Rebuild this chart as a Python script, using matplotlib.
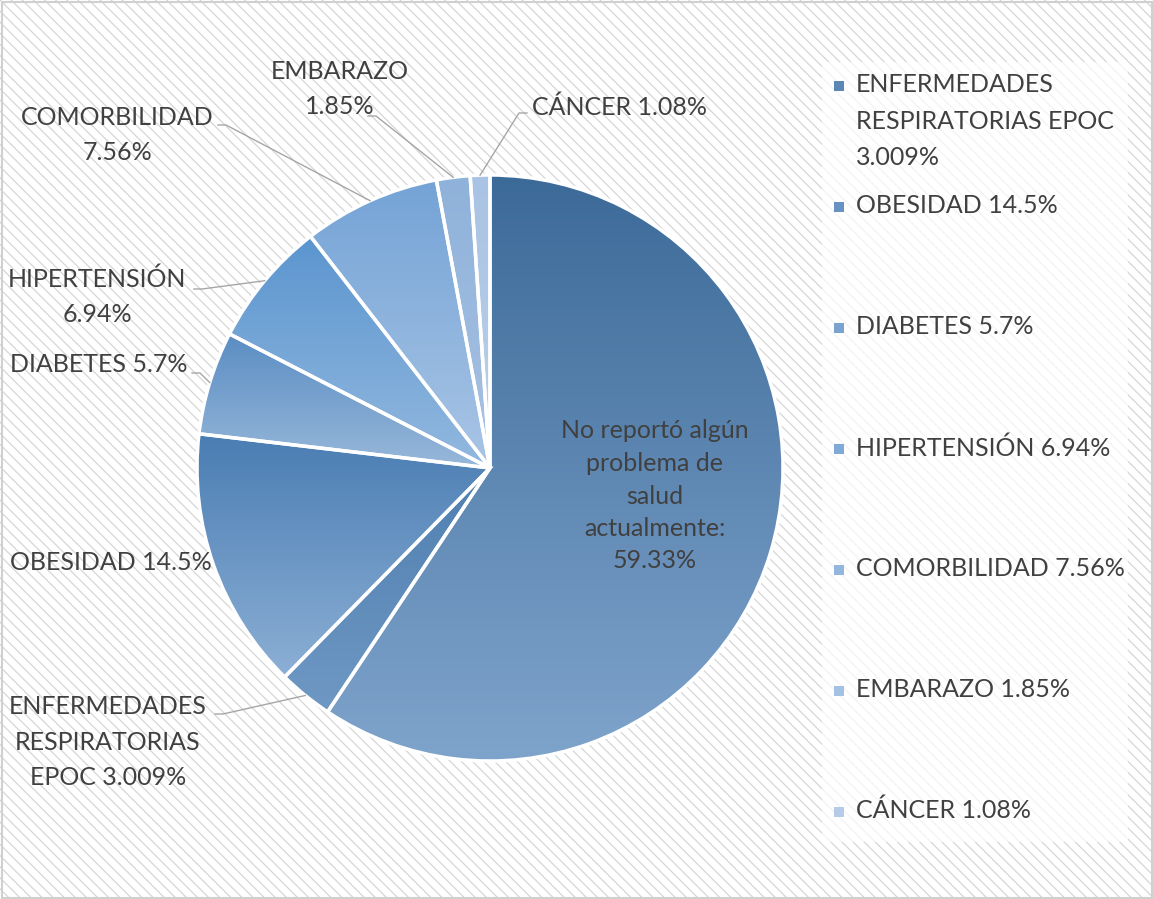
import numpy as np
import matplotlib
matplotlib.use("Agg")
import matplotlib.pyplot as plt
from matplotlib.colors import LinearSegmentedColormap
from matplotlib.patches import Rectangle

plt.rcParams['font.family'] = ['Lato', 'DejaVu Sans']
plt.rcParams['hatch.linewidth'] = 0.9
plt.rcParams['hatch.color'] = '#d6d6d6'

# data, clockwise from 12 o'clock
categories = ['No reportó algún problema de salud actualmente',
              'ENFERMEDADES RESPIRATORIAS EPOC', 'OBESIDAD', 'DIABETES',
              'HIPERTENSIÓN', 'COMORBILIDAD', 'EMBARAZO', 'CÁNCER']
values = [59.33, 3.009, 14.5, 5.7, 6.94, 7.56, 1.85, 1.08]
value_labels = ['59.33%', '3.009%', '14.5%', '5.7%', '6.94%', '7.56%', '1.85%', '1.08%']

# gradient (top, bottom) for each slice
grad_top = ['#3c6a98', '#4f7fb0', '#4a7db3', '#5a8dc3', '#5b95cf', '#74a3d6', '#8fb2da', '#a9c3e4']
grad_bot = ['#7fa4cc', '#6f98c4', '#8cafd5', '#98b8da', '#93b9df', '#a9c5e5', '#a8c2e3', '#bcd0ea']
legend_cols = ['#5b87b5', '#6792c3', '#7ba3cf', '#7faad8', '#93b6df', '#a3c1e4', '#b6cbe8']

W, H = 1153, 899
txt = '#404040'
fs = 18

fig = plt.figure(figsize=(W / 100, H / 100), dpi=100)
ax = fig.add_axes([0, 0, 1, 1])

# hatched background + border
ax.add_patch(Rectangle((0, 0), W, H, facecolor='white', edgecolor='none', zorder=0))
ax.add_patch(Rectangle((0, 0), W, H, facecolor='none', edgecolor='#d6d6d6',
                       hatch='\\\\\\', linewidth=0, zorder=0.5))
ax.add_patch(Rectangle((1.5, 1.5), W - 3, H - 3, facecolor='none', edgecolor='#d0d0d0',
                       linewidth=1.5, zorder=6))

cx, cy, r = 490, H - 468, 293
wedges, _ = ax.pie(values, center=(cx, cy), radius=r, startangle=90, counterclock=False,
                   normalize=True, frame=True,
                   wedgeprops=dict(edgecolor='white', linewidth=2.5))

grad = np.linspace(0, 1, 256).reshape(-1, 1)
for w, c0, c1 in zip(wedges, grad_top, grad_bot):
    bb = w.get_path().get_extents()
    cmap = LinearSegmentedColormap.from_list('g', [c0, c1])
    im = ax.imshow(grad, cmap=cmap, aspect='auto', origin='upper',
                   extent=(bb.x0, bb.x1, bb.y0, bb.y1), zorder=2)
    im.set_clip_path(w)
    w.set_facecolor('none')
    w.set_zorder(3)

ax.set_xlim(0, W)
ax.set_ylim(0, H)
ax.set_aspect('equal')
ax.axis('off')

# inside label of the big slice
ax.text(655, H - 496, 'No reportó algún\nproblema de\nsalud\nactualmente:\n' + value_labels[0],
        ha='center', va='center', fontsize=fs, color=txt, linespacing=1.5, zorder=5)

# outside labels: text centre, leader start (pixel coords)
out_text = [None,
            'ENFERMEDADES\nRESPIRATORIAS\nEPOC ' + value_labels[1],
            'OBESIDAD ' + value_labels[2],
            'DIABETES ' + value_labels[3],
            'HIPERTENSIÓN\n' + value_labels[4],
            'COMORBILIDAD\n' + value_labels[5],
            'EMBARAZO\n' + value_labels[6],
            'CÁNCER ' + value_labels[7]]
out_pos = [None, (108, 742), (111, 563), (99, 364), (97, 297), (117, 135), (340, 89), (620, 107)]
lead_start = [None, (215, 714), None, (192, 373), (194, 289), (218, 125), (368, 116), (527, 113)]

for i in range(1, len(values)):
    x, y = out_pos[i]
    ax.text(x, H - y, out_text[i], ha='center', va='center', fontsize=fs, color=txt,
            linespacing=1.65, zorder=5)
    if lead_start[i] is not None:
        w = wedges[i]
        ang = np.deg2rad((w.theta1 + w.theta2) / 2)
        ex, ey = cx + r * np.cos(ang), cy + r * np.sin(ang)
        sx, sy = lead_start[i]
        sy = H - sy
        elbow = sx + (8 if ex > sx else -8)
        ax.plot([sx, elbow, ex], [sy, sy, ey], color='#a6a6a6', linewidth=1.0, zorder=4)

# legend
ax.add_patch(Rectangle((822, H - 842), 306, 780, facecolor='white', alpha=0.7,
                       edgecolor='none', zorder=1))
leg_text = ['ENFERMEDADES\nRESPIRATORIAS EPOC\n' + value_labels[1],
            'OBESIDAD ' + value_labels[2],
            'DIABETES ' + value_labels[3],
            'HIPERTENSIÓN ' + value_labels[4],
            'COMORBILIDAD ' + value_labels[5],
            'EMBARAZO ' + value_labels[6],
            'CÁNCER ' + value_labels[7]]
for k, (t, c) in enumerate(zip(leg_text, legend_cols)):
    y = H - (86 + 121 * k)
    ax.add_patch(Rectangle((834, y - 5), 10, 10, facecolor=c, edgecolor='none', zorder=5))
    ax.text(856, y + 13, t, ha='left', va='top', fontsize=fs, color=txt,
            linespacing=1.72, zorder=5)

fig.savefig('out.png', dpi=100)
